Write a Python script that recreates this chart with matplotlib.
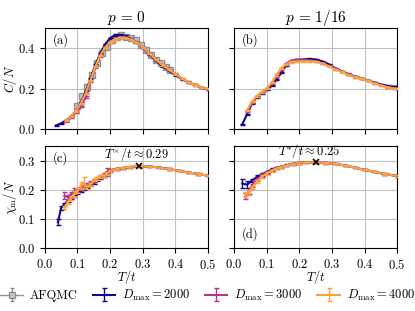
import matplotlib
matplotlib.use("Agg")
import matplotlib.pyplot as plt

plt.rcParams['font.family'] = 'serif'
plt.rcParams['font.serif'] = ['cmr10']
plt.rcParams['mathtext.fontset'] = 'cm'
plt.rcParams['axes.formatter.use_mathtext'] = True
plt.rcParams['font.size'] = 9

# colours for the bond dimensions
c2000 = '#12098a'
c3000 = '#b8338f'
c4000 = '#fca23a'

# ---- panel (a): C/N, p = 0 ----
T_qmc = [0.100, 0.115, 0.130, 0.145, 0.160, 0.175, 0.190, 0.205, 0.220, 0.235,
         0.250, 0.265, 0.280, 0.295, 0.310, 0.325, 0.340, 0.355, 0.370, 0.385]
C_qmc = [0.114, 0.163, 0.207, 0.266, 0.327, 0.376, 0.408, 0.441, 0.457, 0.466,
         0.457, 0.449, 0.441, 0.417, 0.392, 0.368, 0.343, 0.327, 0.310, 0.294]
C_qmc_err = [0.006] * 20

T_a2000 = [0.035, 0.05, 0.065, 0.08, 0.095, 0.11, 0.125, 0.14, 0.155, 0.17, 0.185, 0.2, 0.215, 0.23,
           0.245, 0.26, 0.28, 0.30, 0.32, 0.34, 0.36, 0.38, 0.40, 0.42, 0.44, 0.46, 0.48, 0.50]
C_a2000 = [0.020, 0.030, 0.045, 0.065, 0.090, 0.130, 0.185, 0.250, 0.318, 0.375, 0.420, 0.450, 0.465, 0.466,
           0.460, 0.450, 0.430, 0.402, 0.370, 0.340, 0.312, 0.290, 0.268, 0.248, 0.232, 0.219, 0.207, 0.198]
T_a = [0.065, 0.08, 0.095, 0.11, 0.125, 0.14, 0.155, 0.17, 0.185, 0.2, 0.215, 0.23, 0.245,
       0.26, 0.28, 0.30, 0.32, 0.34, 0.36, 0.38, 0.40, 0.42, 0.44, 0.46, 0.48, 0.50]
C_a3000 = [0.040, 0.058, 0.082, 0.112, 0.160, 0.235, 0.305, 0.362, 0.402, 0.430, 0.447, 0.455, 0.455,
           0.447, 0.432, 0.405, 0.375, 0.345, 0.318, 0.296, 0.274, 0.252, 0.234, 0.220, 0.208, 0.199]
C_a4000 = [0.045, 0.065, 0.090, 0.128, 0.178, 0.243, 0.310, 0.365, 0.405, 0.430, 0.445, 0.452, 0.452,
           0.445, 0.430, 0.405, 0.375, 0.345, 0.318, 0.295, 0.273, 0.251, 0.233, 0.219, 0.208, 0.200]

# ---- panel (b): C/N, p = 1/16 ----
T_b2000 = [0.025, 0.04, 0.055, 0.07, 0.085, 0.10, 0.115, 0.13, 0.145, 0.16, 0.175, 0.19, 0.21, 0.23,
           0.25, 0.27, 0.29, 0.31, 0.33, 0.35, 0.37, 0.39, 0.41, 0.43, 0.45, 0.47, 0.49, 0.50]
C_b2000 = [0.025, 0.075, 0.128, 0.160, 0.180, 0.195, 0.215, 0.245, 0.280, 0.315, 0.335, 0.342, 0.345, 0.347,
           0.345, 0.336, 0.322, 0.302, 0.287, 0.273, 0.262, 0.252, 0.242, 0.232, 0.222, 0.215, 0.211, 0.209]
T_b = [0.04, 0.055, 0.07, 0.085, 0.10, 0.115, 0.13, 0.145, 0.16, 0.175, 0.19, 0.21, 0.23,
       0.25, 0.27, 0.29, 0.31, 0.33, 0.35, 0.37, 0.39, 0.41, 0.43, 0.45, 0.47, 0.49, 0.50]
C_b3000 = [0.090, 0.132, 0.163, 0.183, 0.200, 0.225, 0.262, 0.298, 0.325, 0.340, 0.344, 0.343, 0.340,
           0.336, 0.327, 0.314, 0.298, 0.284, 0.271, 0.259, 0.250, 0.240, 0.229, 0.218, 0.209, 0.203, 0.201]
C_b4000 = [0.095, 0.137, 0.165, 0.185, 0.202, 0.230, 0.268, 0.302, 0.322, 0.332, 0.335, 0.336, 0.336,
           0.334, 0.325, 0.312, 0.297, 0.283, 0.270, 0.258, 0.250, 0.240, 0.228, 0.217, 0.208, 0.202, 0.200]

# ---- panel (c): chi/N, p = 0 ----
T_c2000 = [0.04, 0.05, 0.06, 0.07, 0.08, 0.09, 0.10, 0.11, 0.12, 0.13, 0.14, 0.15, 0.16, 0.17,
           0.18, 0.19, 0.20, 0.22, 0.24, 0.26, 0.29, 0.32, 0.35, 0.38, 0.41, 0.44, 0.47, 0.50]
X_c2000 = [0.088, 0.138, 0.150, 0.162, 0.172, 0.180, 0.188, 0.195, 0.203, 0.210, 0.217, 0.225, 0.233, 0.240,
           0.248, 0.256, 0.265, 0.272, 0.275, 0.278, 0.281, 0.281, 0.277, 0.272, 0.266, 0.260, 0.255, 0.249]
E_c2000 = [0.010, 0.008, 0.005, 0.004, 0.004, 0.003, 0.003, 0.003, 0.003, 0.003, 0.003, 0.003, 0.003, 0.003,
           0.003, 0.003, 0.002, 0.002, 0.002, 0.002, 0.002, 0.002, 0.002, 0.002, 0.002, 0.002, 0.002, 0.002]
T_c = [0.06, 0.07, 0.08, 0.09, 0.10, 0.11, 0.12, 0.13, 0.14, 0.15, 0.16, 0.17, 0.18,
       0.19, 0.20, 0.22, 0.24, 0.26, 0.29, 0.32, 0.35, 0.38, 0.41, 0.44, 0.47, 0.50]
X_c3000 = [0.180, 0.175, 0.185, 0.195, 0.200, 0.205, 0.212, 0.218, 0.225, 0.232, 0.238, 0.245, 0.252,
           0.262, 0.268, 0.273, 0.276, 0.279, 0.282, 0.281, 0.277, 0.272, 0.266, 0.260, 0.255, 0.249]
E_c3000 = [0.012, 0.008, 0.007, 0.010, 0.006, 0.006, 0.005, 0.005, 0.005, 0.006, 0.005, 0.005, 0.006,
           0.015, 0.004, 0.003, 0.003, 0.002, 0.002, 0.002, 0.002, 0.002, 0.002, 0.002, 0.002, 0.002]
X_c4000 = [0.140, 0.158, 0.172, 0.186, 0.198, 0.215, 0.225, 0.210, 0.220, 0.235, 0.240, 0.245, 0.250,
           0.255, 0.265, 0.272, 0.276, 0.279, 0.282, 0.281, 0.277, 0.272, 0.266, 0.260, 0.255, 0.249]
E_c4000 = [0.006, 0.005, 0.008, 0.010, 0.008, 0.012, 0.018, 0.008, 0.005, 0.006, 0.005, 0.005, 0.005,
           0.005, 0.004, 0.003, 0.003, 0.002, 0.002, 0.002, 0.002, 0.002, 0.002, 0.002, 0.002, 0.002]

# ---- panel (d): chi/N, p = 1/16 ----
T_d2000 = [0.025, 0.04, 0.055, 0.07, 0.085, 0.10, 0.115, 0.13, 0.145, 0.16, 0.18,
           0.20, 0.22, 0.25, 0.28, 0.31, 0.34, 0.37, 0.40, 0.43, 0.46, 0.50]
X_d2000 = [0.222, 0.218, 0.232, 0.245, 0.253, 0.262, 0.270, 0.276, 0.280, 0.285, 0.290,
           0.293, 0.295, 0.295, 0.293, 0.290, 0.284, 0.277, 0.269, 0.262, 0.255, 0.248]
E_d2000 = [0.015, 0.012, 0.006, 0.005, 0.005, 0.004, 0.004, 0.003, 0.003, 0.003, 0.003,
           0.002, 0.002, 0.002, 0.002, 0.002, 0.002, 0.002, 0.002, 0.002, 0.002, 0.002]
T_d = [0.035, 0.045, 0.055, 0.07, 0.085, 0.10, 0.115, 0.13, 0.145, 0.16, 0.18,
       0.20, 0.22, 0.25, 0.28, 0.31, 0.34, 0.37, 0.40, 0.43, 0.46, 0.50]
X_d3000 = [0.178, 0.195, 0.215, 0.235, 0.250, 0.260, 0.268, 0.275, 0.280, 0.284, 0.289,
           0.293, 0.295, 0.295, 0.293, 0.290, 0.284, 0.277, 0.269, 0.262, 0.255, 0.248]
E_d3000 = [0.010, 0.008, 0.006, 0.005, 0.005, 0.004, 0.004, 0.003, 0.003, 0.003, 0.003,
           0.002, 0.002, 0.002, 0.002, 0.002, 0.002, 0.002, 0.002, 0.002, 0.002, 0.002]
X_d4000 = [0.185, 0.190, 0.208, 0.228, 0.245, 0.256, 0.266, 0.274, 0.279, 0.284, 0.289,
           0.293, 0.295, 0.295, 0.293, 0.290, 0.284, 0.277, 0.269, 0.262, 0.255, 0.248]
E_d4000 = [0.008, 0.008, 0.006, 0.005, 0.005, 0.004, 0.004, 0.003, 0.003, 0.003, 0.003,
           0.002, 0.002, 0.002, 0.002, 0.002, 0.002, 0.002, 0.002, 0.002, 0.002, 0.002]

T_cross = [0.29, 0.25]
X_cross = [0.281, 0.295]

fig, axs = plt.subplots(2, 2, figsize=(4.15, 3.11), dpi=100, sharex=True, sharey='row')
fig.subplots_adjust(left=0.108, right=0.957, bottom=0.203, top=0.91, wspace=0.16, hspace=0.167)

eb = dict(lw=1.5, elinewidth=1.0, capsize=1.8, capthick=1.0)

def small(vals):
    return [0.003] * len(vals)

ax = axs[0, 0]
ax.errorbar(T_qmc, C_qmc, yerr=C_qmc_err, color='grey', marker='s', ms=4.5, mfc='#c8c8c8',
            mec='grey', alpha=0.85, lw=1.0, capsize=1.5, label='AFQMC', zorder=2)
ax.errorbar(T_a2000, C_a2000, yerr=small(C_a2000), color=c2000, label=r'$D_{\rm max} = 2000$', zorder=3, **eb)
ax.errorbar(T_a, C_a3000, yerr=small(C_a3000), color=c3000, label=r'$D_{\rm max} = 3000$', zorder=4, **eb)
ax.errorbar(T_a, C_a4000, yerr=small(C_a4000), color=c4000, label=r'$D_{\rm max} = 4000$', zorder=5, **eb)
ax.set_title(r'$p\, =\, 0$', fontsize=11, pad=4)
ax.set_ylabel(r'$C/N$')

ax = axs[0, 1]
ax.errorbar(T_b2000, C_b2000, yerr=small(C_b2000), color=c2000, zorder=3, **eb)
ax.errorbar(T_b, C_b3000, yerr=small(C_b3000), color=c3000, zorder=4, **eb)
ax.errorbar(T_b, C_b4000, yerr=small(C_b4000), color=c4000, zorder=5, **eb)
ax.set_title(r'$p\, =\, 1/16$', fontsize=11, pad=4)

ax = axs[1, 0]
ax.errorbar(T_c2000, X_c2000, yerr=E_c2000, color=c2000, zorder=3, **eb)
ax.errorbar(T_c, X_c3000, yerr=E_c3000, color=c3000, zorder=4, **eb)
ax.errorbar(T_c, X_c4000, yerr=E_c4000, color=c4000, zorder=5, **eb)
ax.plot(T_cross[0], X_cross[0], 'x', color='k', ms=5, mew=1.2, zorder=6)
ax.text(T_cross[0] - 0.01, X_cross[0] + 0.012, r'$T^{\times}/t \approx 0.29$', ha='center', va='bottom')
ax.set_ylabel(r'$\chi_{\rm m}/N$')
ax.set_xlabel(r'$T/t$')

ax = axs[1, 1]
ax.errorbar(T_d2000, X_d2000, yerr=E_d2000, color=c2000, zorder=3, **eb)
ax.errorbar(T_d, X_d3000, yerr=E_d3000, color=c3000, zorder=4, **eb)
ax.errorbar(T_d, X_d4000, yerr=E_d4000, color=c4000, zorder=5, **eb)
ax.plot(T_cross[1], X_cross[1], 'x', color='k', ms=5, mew=1.2, zorder=6)
ax.text(T_cross[1] - 0.02, X_cross[1] + 0.008, r'$T^{*}/t \approx 0.25$', ha='center', va='bottom')
ax.set_xlabel(r'$T/t$')

for ax, lab, pos in zip(axs.flat, ['(a)', '(b)', '(c)', '(d)'],
                        [(0.05, 0.88), (0.05, 0.88), (0.05, 0.88), (0.05, 0.14)]):
    ax.text(pos[0], pos[1], lab, transform=ax.transAxes, ha='left', va='center')
    ax.grid(True, color='#c0c0c0', lw=0.8)
    ax.set_axisbelow(True)
    ax.set_xlim(0, 0.5)
    ax.set_xticks([0.0, 0.1, 0.2, 0.3, 0.4, 0.5])
    ax.tick_params(labelsize=9)

axs[0, 0].set_ylim(0, 0.5)
axs[0, 0].set_yticks([0.0, 0.2, 0.4])
axs[1, 0].set_ylim(0, 0.35)
axs[1, 0].set_yticks([0.0, 0.1, 0.2, 0.3])
axs[0, 0].yaxis.set_label_coords(-0.16, 0.5)
axs[1, 0].yaxis.set_label_coords(-0.16, 0.5)
axs[1, 0].xaxis.set_label_coords(0.5, -0.2)
axs[1, 1].xaxis.set_label_coords(0.5, -0.2)

handles, labels = axs[0, 0].get_legend_handles_labels()
fig.legend(handles, labels, loc='center', bbox_to_anchor=(0.5, 0.05), ncol=4, frameon=False,
           handlelength=1.8, columnspacing=1.2, handletextpad=0.55, fontsize=9)

fig.savefig('out.png', dpi=100)
